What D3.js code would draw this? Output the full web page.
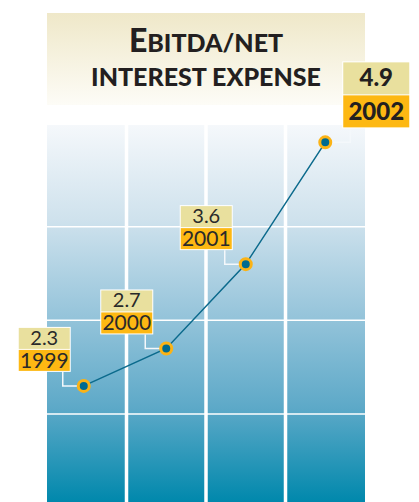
<!DOCTYPE html>
<html>
<head>
<meta charset="utf-8">
<script src="https://cdn.jsdelivr.net/npm/d3@7"></script>
<style>
  html, body { margin: 0; padding: 0; background: #fff; }
</style>
</head>
<body>
<div id="chart"></div>
<script>
// chart data
const years = ["1999", "2000", "2001", "2002"];
const values = [2.3, 2.7, 3.6, 4.9];
const gridTicks = [2, 3, 4];
const titleLines = ["EBITDA/NET", "INTEREST EXPENSE"];

const width = 419, height = 502;
const plot = {left: 47, right: 365, top: 125, bottom: 502};

const svg = d3.select("#chart").append("svg")
    .attr("width", width)
    .attr("height", height)
    .attr("viewBox", [0, 0, width, height])
    .attr("font-family", "Lato, 'Open Sans', sans-serif");

const defs = svg.append("defs");

const bg = defs.append("linearGradient")
    .attr("id", "bg")
    .attr("x1", 0).attr("y1", 0).attr("x2", 0).attr("y2", 1);
bg.selectAll("stop")
  .data([[0, "#f5f8fb"], [0.25, "#cfe2ed"], [0.5, "#97c5db"], [0.75, "#5da9c8"], [1, "#0088ac"]])
  .join("stop")
    .attr("offset", d => d[0])
    .attr("stop-color", d => d[1]);

const tg = defs.append("linearGradient")
    .attr("id", "tg")
    .attr("x1", 0).attr("y1", 0).attr("x2", 0).attr("y2", 1);
tg.selectAll("stop")
  .data([[0, "#efe8c9"], [1, "#fdfcf7"]])
  .join("stop")
    .attr("offset", d => d[0])
    .attr("stop-color", d => d[1]);

// scales
const x = d3.scaleBand()
    .domain(years)
    .range([plot.left, plot.right])
    .padding(0);

const y = d3.scaleLinear()
    .domain([2, 5])
    .range([414, 133]);

// title box
svg.append("rect")
    .attr("x", plot.left)
    .attr("y", 13)
    .attr("width", plot.right - plot.left)
    .attr("height", 92)
    .attr("fill", "url(#tg)");

const title = svg.append("text")
    .attr("text-anchor", "middle")
    .attr("fill", "#231f20")
    .attr("font-weight", 900);

const t1 = title.append("tspan")
    .attr("x", 206)
    .attr("y", 52);
t1.append("tspan").attr("font-size", 32).text(titleLines[0][0]);
t1.append("tspan").attr("font-size", 25).text(titleLines[0].slice(1));

title.append("tspan")
    .attr("x", 206)
    .attr("y", 86)
    .attr("font-size", 25)
    .text(titleLines[1]);

// plot background
svg.append("rect")
    .attr("x", plot.left)
    .attr("y", plot.top)
    .attr("width", plot.right - plot.left)
    .attr("height", plot.bottom - plot.top)
    .attr("fill", "url(#bg)");

// horizontal grid
svg.append("g")
  .selectAll("line")
  .data(gridTicks)
  .join("line")
    .attr("x1", plot.left)
    .attr("x2", plot.right)
    .attr("y1", d => y(d))
    .attr("y2", d => y(d))
    .attr("stroke", "#fff")
    .attr("stroke-width", 1.5);

// vertical column separators
svg.append("g")
  .selectAll("line")
  .data(years.slice(1))
  .join("line")
    .attr("x1", d => x(d))
    .attr("x2", d => x(d))
    .attr("y1", plot.top)
    .attr("y2", plot.bottom)
    .attr("stroke", "#fff")
    .attr("stroke-width", 3.5);

const px = i => x(years[i]) + x.bandwidth() / 2 - (i === 0 ? 3 : 0);
const py = i => y(values[i]);

// connectors + labels
const last = years.length - 1;

years.forEach((yr, i) => {
  const cx = px(i), cy = py(i);
  const g = svg.append("g");
  if (i < last) {
    const bw = 53, vh = 22, yh = 23;
    const bx = cx - 66, by = cy - 14 - vh - yh;
    g.append("path")
        .attr("d", `M${cx - 21},${by + vh + yh}V${cy}H${cx}`)
        .attr("fill", "none")
        .attr("stroke", "#f4f8fb")
        .attr("stroke-width", 1.5);
    g.append("rect")
        .attr("x", bx).attr("y", by)
        .attr("width", bw).attr("height", vh + yh)
        .attr("fill", "#fff");
    g.append("rect")
        .attr("x", bx + 1).attr("y", by + 1)
        .attr("width", bw - 2).attr("height", vh - 1)
        .attr("fill", "#e9e09e");
    g.append("rect")
        .attr("x", bx + 1).attr("y", by + vh + 1)
        .attr("width", bw - 2).attr("height", yh - 2)
        .attr("fill", "#fdb813");
    g.append("text")
        .attr("x", bx + bw / 2).attr("y", by + vh - 4)
        .attr("text-anchor", "middle")
        .attr("font-size", 20)
        .attr("fill", "#2a2a2a")
        .text(values[i].toFixed(1));
    g.append("text")
        .attr("x", bx + bw / 2).attr("y", by + vh + yh - 4)
        .attr("text-anchor", "middle")
        .attr("font-size", 21)
        .attr("fill", "#2a2a2a")
        .text(yr);
  } else {
    const bw = 68, vh = 33, yh = 34;
    const bx = cx + 17, by = cy - 14 - vh - yh;
    g.append("path")
        .attr("d", `M${cx},${cy}H${bx + 8}V${by + vh + yh}`)
        .attr("fill", "none")
        .attr("stroke", "#f4f8fb")
        .attr("stroke-width", 1.5);
    g.append("rect")
        .attr("x", bx).attr("y", by)
        .attr("width", bw).attr("height", vh + yh)
        .attr("fill", "#fff");
    g.append("rect")
        .attr("x", bx + 1).attr("y", by + 1)
        .attr("width", bw - 2).attr("height", vh - 1)
        .attr("fill", "#e9e09e");
    g.append("rect")
        .attr("x", bx + 1).attr("y", by + vh + 1)
        .attr("width", bw - 2).attr("height", yh - 2)
        .attr("fill", "#fdb813");
    g.append("text")
        .attr("x", bx + bw / 2).attr("y", by + vh - 8)
        .attr("text-anchor", "middle")
        .attr("font-size", 24)
        .attr("font-weight", 900)
        .attr("fill", "#231f20")
        .text(values[i].toFixed(1));
    g.append("text")
        .attr("x", bx + bw / 2).attr("y", by + vh + yh - 8)
        .attr("text-anchor", "middle")
        .attr("font-size", 24)
        .attr("font-weight", 900)
        .attr("fill", "#231f20")
        .text(yr);
  }
});

// line
const line = d3.line()
    .x((d, i) => px(i))
    .y((d, i) => py(i));

svg.append("path")
    .datum(values)
    .attr("d", line)
    .attr("fill", "none")
    .attr("stroke", "#0b6a8c")
    .attr("stroke-width", 1.5);

// points
svg.append("g")
  .selectAll("circle")
  .data(values)
  .join("circle")
    .attr("cx", (d, i) => px(i))
    .attr("cy", (d, i) => py(i))
    .attr("r", 5.5)
    .attr("fill", "#006b8f")
    .attr("stroke", "#fbb316")
    .attr("stroke-width", 3);
</script>
</body>
</html>
